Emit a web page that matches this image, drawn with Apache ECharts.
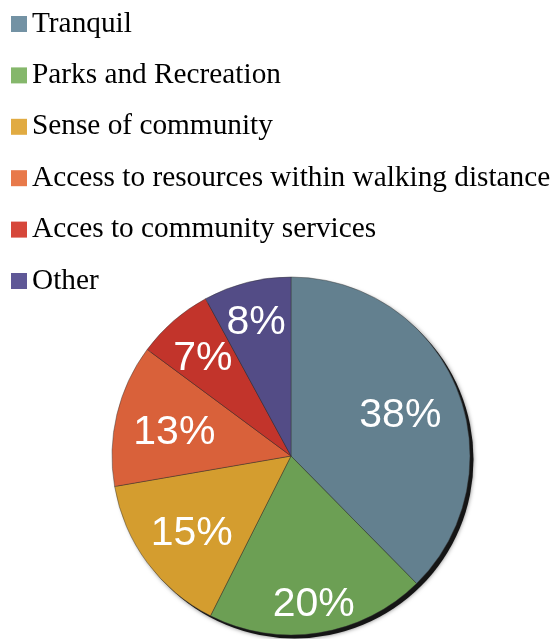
<!DOCTYPE html>
<html>
<head>
<meta charset="utf-8">
<script src="https://cdn.jsdelivr.net/npm/echarts@6/dist/echarts.min.js"></script>
<style>
  html, body { margin: 0; padding: 0; background: #fff; }
  #chart { width: 554px; height: 639px; }
</style>
</head>
<body>
<div id="chart"></div>
<script>
// Reasons residents gave for liking their neighbourhood (percent of responses)
const categories = [
  'Tranquil',
  'Parks and Recreation',
  'Sense of community',
  'Access to resources within walking distance',
  'Acces to community services',
  'Other'
];
const shares = [38, 20, 15, 13, 7, 8];

// Slice fills and slightly brighter legend swatches
const sliceColors = ['#63808f', '#6c9f54', '#d49d2f', '#d9613a', '#c2342b', '#534c86'];
const swatchColors = ['#7392a4', '#85b76b', '#e1ab42', '#e8794a', '#d6473a', '#5f5897'];

// How far out (fraction of the radius) each percentage label sits
const labelRadius = [0.66, 0.82, 0.69, 0.67, 0.75, 0.79];

const CX = 291, CY = 456, R = 179;

const chart = echarts.init(document.getElementById('chart'), null, { renderer: 'canvas' });

const total = shares.reduce((a, b) => a + b, 0);
function midAngle(i) {
  let before = 0;
  for (let k = 0; k < i; k++) before += shares[k];
  return (before + shares[i] / 2) / total * Math.PI * 2;
}

chart.setOption({
  animation: false,
  backgroundColor: '#ffffff',
  legend: {
    orient: 'vertical',
    left: 11,
    top: 9,
    padding: 0,
    itemWidth: 16,
    itemHeight: 16,
    itemGap: 21.4,
    icon: 'rect',
    selectedMode: false,
    itemStyle: { borderWidth: 0 },
    textStyle: {
      fontFamily: '"Liberation Serif", "Times New Roman", serif',
      fontSize: 29.3,
      lineHeight: 30,
      color: '#000'
    },
    data: categories.map((name, i) => ({ name, itemStyle: { color: swatchColors[i], borderWidth: 0 } }))
  },
  graphic: [{
    type: 'circle',
    z: 0,
    silent: true,
    shape: { cx: CX + 3.5, cy: CY + 3.5, r: R },
    style: { fill: '#151515', shadowBlur: 4, shadowColor: 'rgba(0,0,0,0.5)' }
  }],
  series: [{
    type: 'pie',
    z: 5,
    center: [CX, CY],
    radius: [0, R],
    startAngle: 90,
    clockwise: true,
    avoidLabelOverlap: false,
    silent: true,
    itemStyle: {
      borderColor: 'rgba(50,50,50,0.55)',
      borderWidth: 0.8
    },
    label: {
      show: true,
      position: 'inside',
      formatter: p => p.value + '%',
      color: '#ffffff',
      fontFamily: '"Liberation Sans", Arial, sans-serif',
      fontSize: 41
    },
    labelLine: { show: false },
    labelLayout: function (params) {
      const i = params.dataIndex;
      const a = midAngle(i);
      const d = R * labelRadius[i];
      return {
        x: CX + Math.sin(a) * d,
        y: CY - Math.cos(a) * d + 4,
        align: 'center',
        verticalAlign: 'middle'
      };
    },
    data: categories.map((name, i) => ({
      name,
      value: shares[i],
      itemStyle: { color: sliceColors[i] }
    }))
  }]
});
</script>
</body>
</html>
